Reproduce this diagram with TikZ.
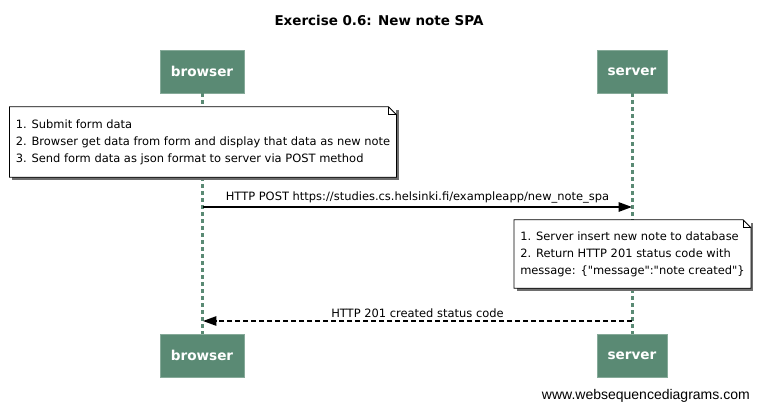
\documentclass[tikz,border=0pt]{standalone}
\usepackage{fontspec}
\setmainfont{DejaVu Sans}
\newfontfamily\footfont{Liberation Sans}
\usetikzlibrary{positioning,arrows.meta,shadows}
\definecolor{Green}{HTML}{5A8A74}
\definecolor{LGreen}{HTML}{86AA99}
\definecolor{Shade}{HTML}{6E6E6E}
% outline of a note with a folded top right corner
\newcommand{\notefold}[1]{%
  \draw[noteline] (#1.south west) -- (#1.north west) -- ([xshift=-6pt]#1.north east)
    -- ([yshift=-6pt]#1.north east) -- (#1.south east) -- cycle;
  \draw[noteline] ([xshift=-6pt]#1.north east) |- ([yshift=-6pt]#1.north east);}

\begin{document}
\begin{tikzpicture}[x=0.75pt,y=-0.75pt,
    actor/.style={draw=LGreen,fill=Green,minimum width=63pt,minimum height=32.25pt,
                  font=\bfseries\fontsize{10.2}{12}\selectfont\color{white}},
    life/.style={Green,line width=2.25pt,dash pattern=on 3pt off 2.25pt},
    note/.style={fill=white,align=left,inner xsep=4.5pt,
                 font=\fontsize{8.6}{12.75}\selectfont,
                 drop shadow={shadow xshift=2pt,shadow yshift=-2pt,fill=Shade,opacity=1}},
    noteline/.style={black,line width=0.6pt},
    msg/.style={-{Triangle[length=10pt,width=7pt]},line width=1.2pt},
    lbl/.style={font=\fontsize{8.6}{10}\selectfont,above,inner sep=2pt}
  ]
    \useasboundingbox (0,0) rectangle (758,411);
    \node[font=\bfseries\fontsize{10.1}{12}\selectfont] (title) at (379,20) {Exercise 0.6: New note SPA};

    \node[actor] (b1) at (202,71.5) {browser};
    \node[actor,minimum width=52.5pt] (s1) at (632,71.5) {server};
    \node[actor] (b2) at (202,355.5) {browser};
    \node[actor,minimum width=52.5pt] (s2) at (632,355.5) {server};
    \draw[life] (b1.south) -- (b2.north);
    \draw[life] (s1.south) -- (s2.north);

    \node[note,minimum width=286.5pt,minimum height=52.5pt] (n1) at (203,142)
      {1. Submit form data\\2. Browser get data from form and display that data as new note\\3. Send form data as json format to server via POST method};
    \notefold{n1}

    \coordinate (bpost) at (203,207);
    \coordinate (spost) at (632,207);
    \draw[msg] (bpost) -- node[lbl] {HTTP POST https://studies.cs.helsinki.fi/exampleapp/new\_note\_spa} (spost);

    \node[note,minimum width=173.25pt,minimum height=51pt] (n2) at (632.5,254)
      {1. Server insert new note to database\\2. Return HTTP 201 status code with\\message: \{\textquotedbl message\textquotedbl:\textquotedbl note created\textquotedbl\}};
    \notefold{n2}

    \coordinate (sres) at (632,321);
    \coordinate (bres) at (203,321);
    \draw[msg,dash pattern=on 3.5pt off 2.5pt] (sres) -- node[lbl] {HTTP 201 created status code} (bres);

    \node[font=\footfont\fontsize{10.5}{12}\selectfont,anchor=east,inner sep=0pt] (site) at (750,396) {www.websequencediagrams.com};
  \end{tikzpicture}
\end{document}
